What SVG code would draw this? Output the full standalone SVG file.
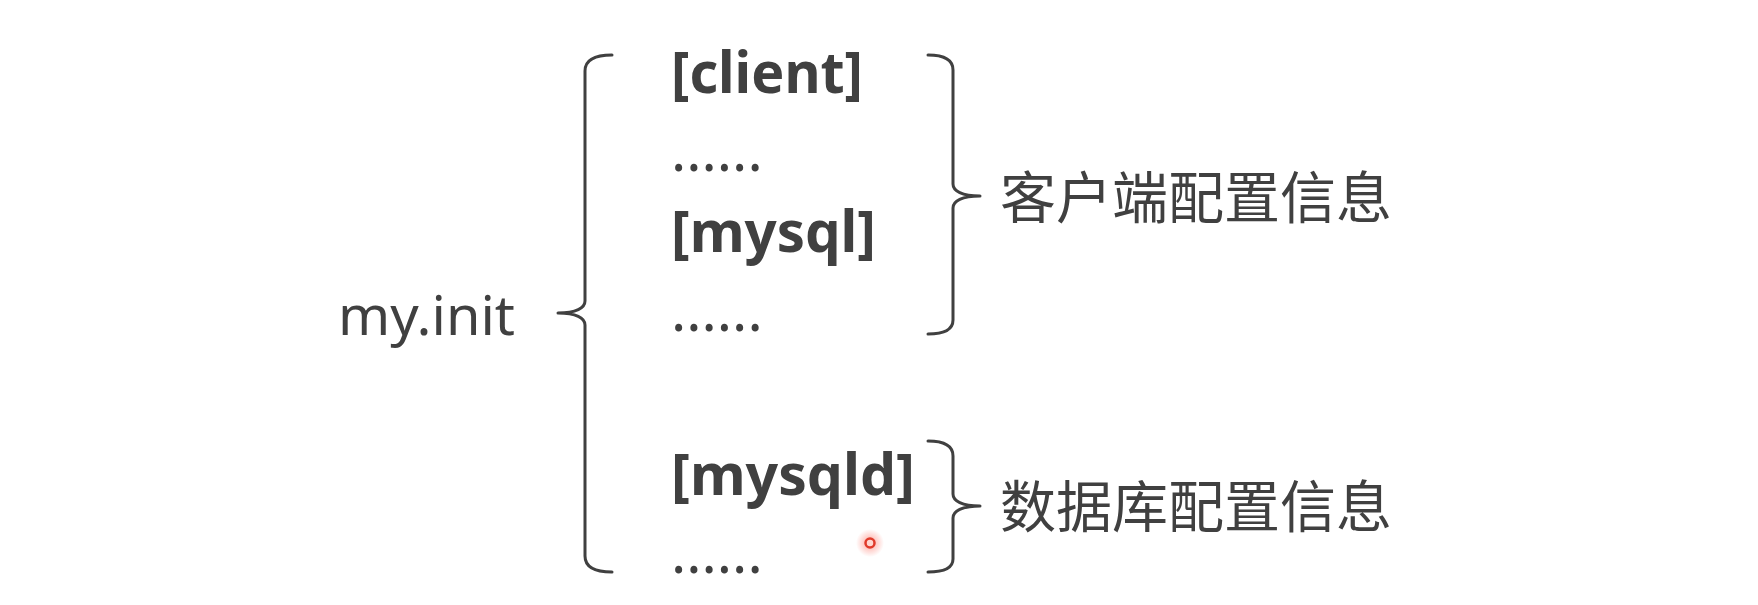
<svg xmlns="http://www.w3.org/2000/svg" width="1758" height="605" viewBox="0 0 1758 605">
<defs>
<style>
.lbl{font-family:"Noto Sans","Open Sans","Liberation Sans",sans-serif;fill:#404040;font-size:55px}
.sec{font-weight:bold;font-size:57px}
.dots{font-family:"Noto Sans","Open Sans","Liberation Sans",sans-serif;fill:#404040;font-size:57px}
.cjk{font-family:"Noto Sans CJK SC","Noto Sans",sans-serif;fill:#404040;font-size:56px}
.brace{fill:none;stroke:#404040;stroke-width:3;stroke-linecap:round;stroke-linejoin:round}
</style>
<radialGradient id="glow">
<stop offset="0" stop-color="#ff5a4a" stop-opacity="0.55"/>
<stop offset="1" stop-color="#ff5a4a" stop-opacity="0"/>
</radialGradient>
</defs>
<rect width="1758" height="605" fill="#ffffff"/>
<g id="connectors">
<path class="brace" d="M612,55 C596,55 585,59 585,71 L585,301 C585,308 576,313 558,313 C576,313 585,318 585,325 L585,556 C585,568 596,572 612,572"/>
<path class="brace" d="M928,55 C942,55 953,58 953,70 L953,184 C953,191 962,196 980,196 C962,196 953,201 953,208 L953,320 C953,331 942,334 928,334"/>
<path class="brace" d="M928,441 C942,441 953,444 953,456 L953,494 C953,501 962,506 980,506 C962,506 953,511 953,518 L953,559 C953,569 942,572 928,572"/>
</g>
<g id="myinit"><text class="lbl" x="338" y="335" textLength="177" lengthAdjust="spacingAndGlyphs">my.init</text></g>
<g id="client"><text class="lbl sec" x="671" y="93" textLength="192" lengthAdjust="spacingAndGlyphs">[client]</text></g>
<g id="dots1"><text class="dots" x="671" y="171">......</text></g>
<g id="mysql"><text class="lbl sec" x="671" y="252" textLength="205" lengthAdjust="spacingAndGlyphs">[mysql]</text></g>
<g id="dots2"><text class="dots" x="671" y="331">......</text></g>
<g id="mysqld"><text class="lbl sec" x="671" y="495" textLength="244" lengthAdjust="spacingAndGlyphs">[mysqld]</text></g>
<g id="dots3"><text class="dots" x="671" y="573">......</text></g>
<g id="client-info"><text class="cjk" x="1000" y="218">客户端配置信息</text></g>
<g id="server-info"><text class="cjk" x="1000" y="527">数据库配置信息</text></g>
<g id="cursor">
<circle cx="870" cy="543" r="14" fill="url(#glow)"/>
<circle cx="870" cy="543" r="4.5" fill="#ffd6cf" stroke="#e03a2a" stroke-width="2.5"/>
</g>
</svg>
